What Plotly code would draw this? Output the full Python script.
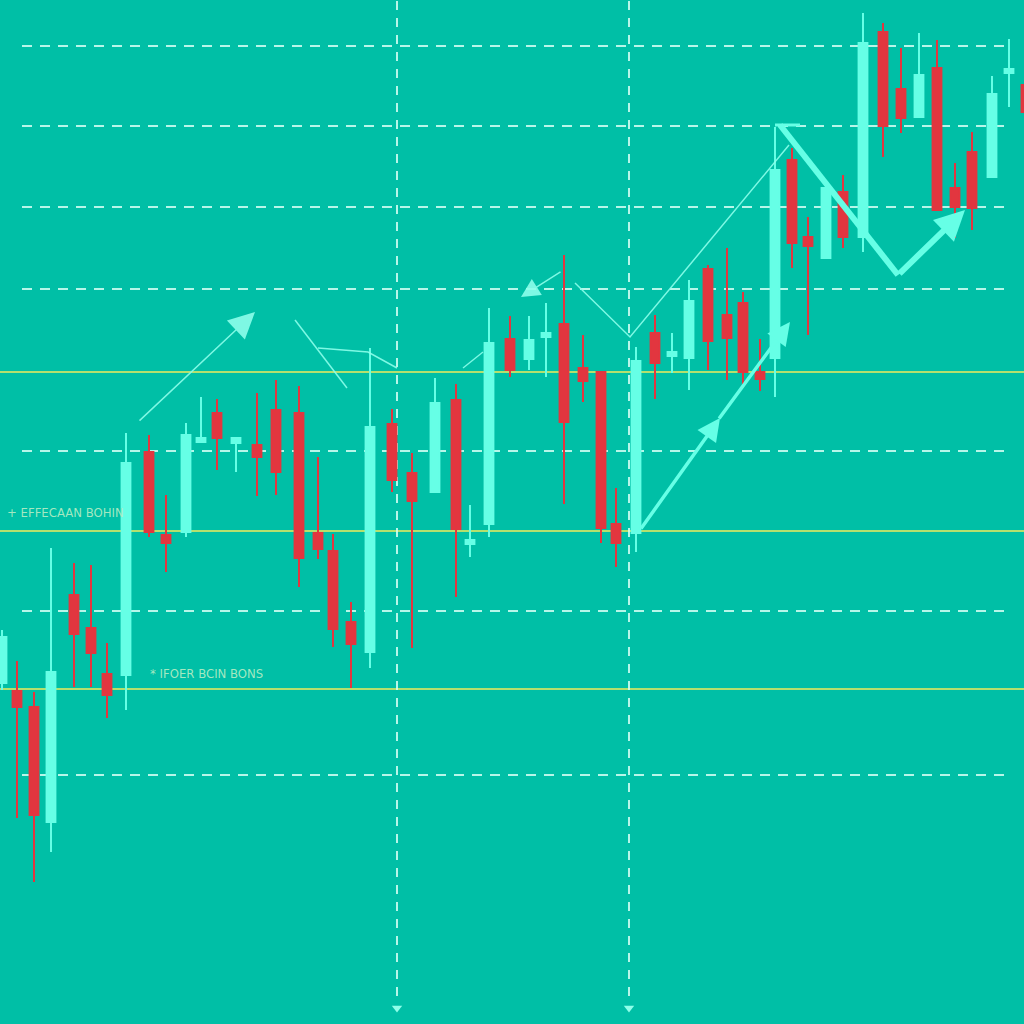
import plotly.graph_objects as go

# ---- data (price units) ----
x_pos = [2, 17, 34, 51, 74, 91, 107, 126, 149, 166, 186, 201, 217, 236, 257, 276, 299, 318, 333, 351,
         370, 392, 412, 435, 456, 470, 489, 510, 529, 546, 564, 583, 601, 616, 636, 655, 672, 689, 708, 727,
         743, 760, 775, 792, 808, 826, 843, 863, 883, 901, 919, 937, 955, 972, 992, 1009, 1026]
open_ = [341, 333, 317, 202, 429, 396, 350, 349, 572, 489, 492, 582, 611, 581, 579, 614, 611, 491, 473, 402,
         372, 600, 551, 532, 624, 480, 500, 685, 665, 687, 700, 656, 652, 500, 491, 691, 668, 666, 755, 709,
         721, 652, 666, 864, 787, 766, 832, 787, 992, 935, 907, 956, 836, 872, 847, 951, 939]
high = [394, 363, 332, 476, 461, 459, 381, 591, 589, 529, 601, 627, 625, 587, 631, 644, 638, 567, 490, 422,
        676, 615, 571, 646, 640, 519, 716, 708, 708, 721, 769, 689, 652, 536, 677, 709, 691, 744, 759, 776,
        732, 685, 897, 876, 807, 839, 849, 1011, 1001, 976, 991, 984, 861, 892, 948, 985, 949]
low = [334, 206, 142, 172, 337, 337, 306, 314, 487, 452, 487, 582, 554, 552, 528, 529, 437, 465, 377, 336,
       356, 532, 376, 532, 427, 467, 487, 647, 654, 647, 520, 622, 481, 457, 472, 625, 651, 634, 654, 644,
       636, 633, 627, 756, 689, 766, 776, 772, 867, 891, 907, 814, 786, 794, 847, 917, 904]
close = [387, 317, 209, 352, 390, 371, 329, 561, 492, 481, 589, 586, 586, 586, 567, 552, 466, 475, 395, 380,
         597, 544, 523, 621, 495, 484, 681, 654, 684, 691, 602, 643, 496, 481, 663, 661, 672, 723, 683, 686,
         652, 645, 854, 781, 778, 836, 787, 981, 898, 906, 949, 814, 817, 816, 930, 955, 912]

grid_levels = [978, 898, 817, 735, 573, 413, 249]
support_levels = [652, 493, 335]
marker_x = [397, 629]
label_texts = ["+ EFFECAAN BOHIN", "* IFOER BCIN BONS"]
label_x = [5, 148]
label_y = [512, 351]

BG = "#00BFA6"
CYAN = "#66FFE6"
RED = "#E2363F"
GRID = "rgba(215,255,245,0.85)"
YEL = "rgba(190,225,105,0.95)"
LINE = "rgba(140,255,235,0.9)"

fig = go.Figure()
fig.add_trace(go.Candlestick(
    x=x_pos, open=open_, high=high, low=low, close=close,
    increasing=dict(line=dict(color=CYAN, width=2), fillcolor=CYAN),
    decreasing=dict(line=dict(color=RED, width=2), fillcolor=RED),
    whiskerwidth=0, showlegend=False, hoverinfo="skip"))

shapes = []
for g in grid_levels:
    shapes.append(dict(type="line", xref="x", yref="y", x0=22, x1=1012, y0=g, y1=g,
                       line=dict(color=GRID, width=2, dash="10px,8px"), layer="below"))
for s in support_levels:
    shapes.append(dict(type="line", xref="x", yref="y", x0=0, x1=1024, y0=s, y1=s,
                       line=dict(color=YEL, width=2), layer="below"))
for mx in marker_x:
    shapes.append(dict(type="line", xref="x", yref="y", x0=mx, x1=mx, y0=28, y1=1024,
                       line=dict(color=GRID, width=2, dash="9px,8px"), layer="below"))

# thin drawn lines
def path(pts, width, color):
    d = "M " + " L ".join(f"{a},{b}" for a, b in pts)
    return dict(type="path", xref="x", yref="y", path=d, line=dict(color=color, width=width))

shapes.append(path([(295, 704), (347, 636)], 1.5, LINE))
shapes.append(path([(318, 676), (368, 672), (397, 656)], 1.5, LINE))
shapes.append(path([(463, 656), (483, 672)], 1.5, LINE))
shapes.append(path([(575, 741), (630, 687), (789, 879)], 1.5, LINE))
shapes.append(path([(775, 899), (800, 899)], 3, CYAN))
shapes.append(path([(780, 899), (898, 749)], 6, CYAN))

annotations = []
def arrow(x0, y0, x1, y1, width, size, color):
    annotations.append(dict(x=x1, y=y1, ax=x0, ay=y0, xref="x", yref="y", axref="x", ayref="y",
                            text="", showarrow=True, arrowhead=2, arrowsize=size,
                            arrowwidth=width, arrowcolor=color))

arrow(138, 602, 255, 712, 1.5, 3.5, LINE)
arrow(562, 753, 521, 727, 1.5, 2.5, LINE)
arrow(640, 494, 720, 606, 3.5, 1.3, CYAN)
arrow(718, 604, 790, 702, 3.5, 1.3, CYAN)
arrow(898, 749, 965, 814, 6, 1.0, CYAN)

for t, lx, ly in zip(label_texts, label_x, label_y):
    annotations.append(dict(x=lx, y=ly, xref="x", yref="y", text=t, showarrow=False,
                            xanchor="left", yanchor="middle",
                            font=dict(family="DejaVu Sans Condensed", size=13, color="rgba(175,235,195,0.95)")))

fig.add_trace(go.Scatter(x=marker_x, y=[16, 16], mode="markers",
                         marker=dict(symbol="triangle-down", size=9, color="#8FFFEA"),
                         showlegend=False, hoverinfo="skip"))

fig.update_layout(
    width=1024, height=1024, margin=dict(l=0, r=0, t=0, b=0),
    paper_bgcolor=BG, plot_bgcolor=BG, boxgap=0.1,
    shapes=shapes, annotations=annotations, showlegend=False,
    xaxis=dict(range=[0, 1024], visible=False, rangeslider=dict(visible=False), fixedrange=True),
    yaxis=dict(range=[0, 1024], visible=False, fixedrange=True),
)
fig.write_html("out.html", config={"displayModeBar": False},
               post_script="document.body.style.margin='0px';document.body.style.overflow='hidden';")
